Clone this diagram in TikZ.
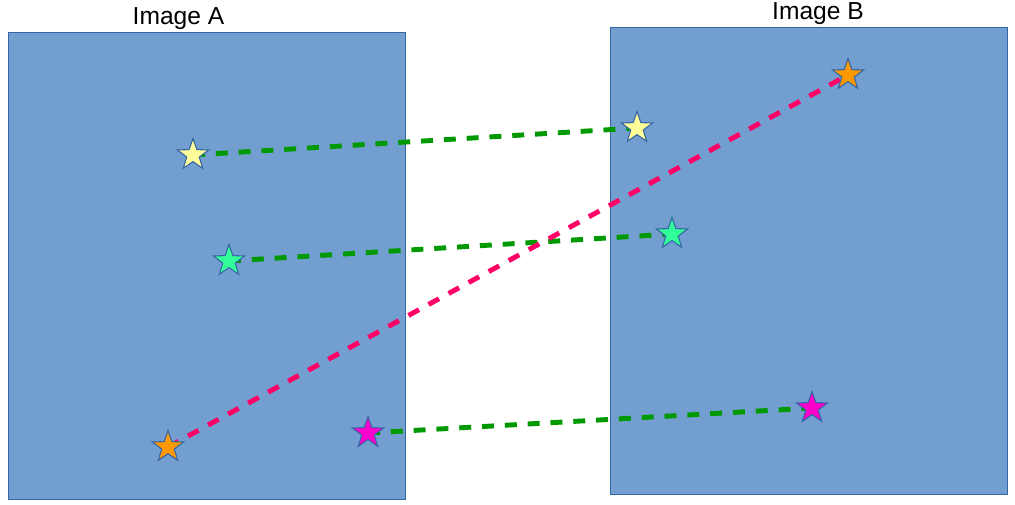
\documentclass[tikz,border=0pt]{standalone}
\usepackage{fontspec}
\setmainfont{Liberation Sans}
\usetikzlibrary{shapes.geometric}
\definecolor{imfill}{RGB}{114,159,207}
\definecolor{imedge}{RGB}{52,101,164}
\definecolor{mgreen}{RGB}{0,153,0}
\definecolor{mpink}{RGB}{255,0,102}
\definecolor{kyel}{RGB}{255,255,153}
\definecolor{kgrn}{RGB}{51,255,153}
\definecolor{korg}{RGB}{255,153,0}
\definecolor{kmag}{RGB}{255,0,204}
\pgfdeclarelayer{bg}
\pgfdeclarelayer{lines}
\pgfsetlayers{bg,lines,main}
\tikzset{
  img/.style={draw=imedge, fill=imfill, line width=0.6pt, inner sep=0pt,
    minimum width=79.3mm, minimum height=93.4mm, anchor=north west},
  kp/.style={star, star points=5, star point ratio=2.5, draw=imedge,
    line width=0.6pt, fill=#1, inner sep=0pt, minimum size=6.6mm},
  match/.style={draw=mgreen, line width=2.8pt, dash pattern=on 6.8pt off 6.2pt},
  wrong/.style={match, draw=mpink},
  ttl/.style={font=\fontsize{14}{16}\selectfont, anchor=base}
}
\begin{document}
\begin{tikzpicture}[x=0.2mm, y=-0.2mm]
  \useasboundingbox (0,0) rectangle (1015,505);
  \begin{pgfonlayer}{bg}
    \node[img] (imA) at (8,32) {};
    \node[img] (imB) at (610,27) {};
  \end{pgfonlayer}
  \node[ttl] (tA) at (178.5,25) {Image A};
  \node[ttl] (tB) at (818,20) {Image B};
  % keypoints in A and B
  \node[kp=kyel] (ya) at (193,155) {};
  \node[kp=kgrn] (ga) at (229,261) {};
  \node[kp=korg] (oa) at (168,447) {};
  \node[kp=kmag] (ma) at (368,433) {};
  \node[kp=kyel] (yb) at (637,128) {};
  \node[kp=kgrn] (gb) at (672,234) {};
  \node[kp=korg] (ob) at (848,75) {};
  \node[kp=kmag] (mb) at (812,408) {};
  \begin{pgfonlayer}{lines}
    \foreach \p/\q in {ya/yb,ga/gb,ma/mb} \draw[match] (\p.center) -- (\q.center);
    \draw[wrong] (oa.center) -- (ob.center);
  \end{pgfonlayer}
\end{tikzpicture}
\end{document}
